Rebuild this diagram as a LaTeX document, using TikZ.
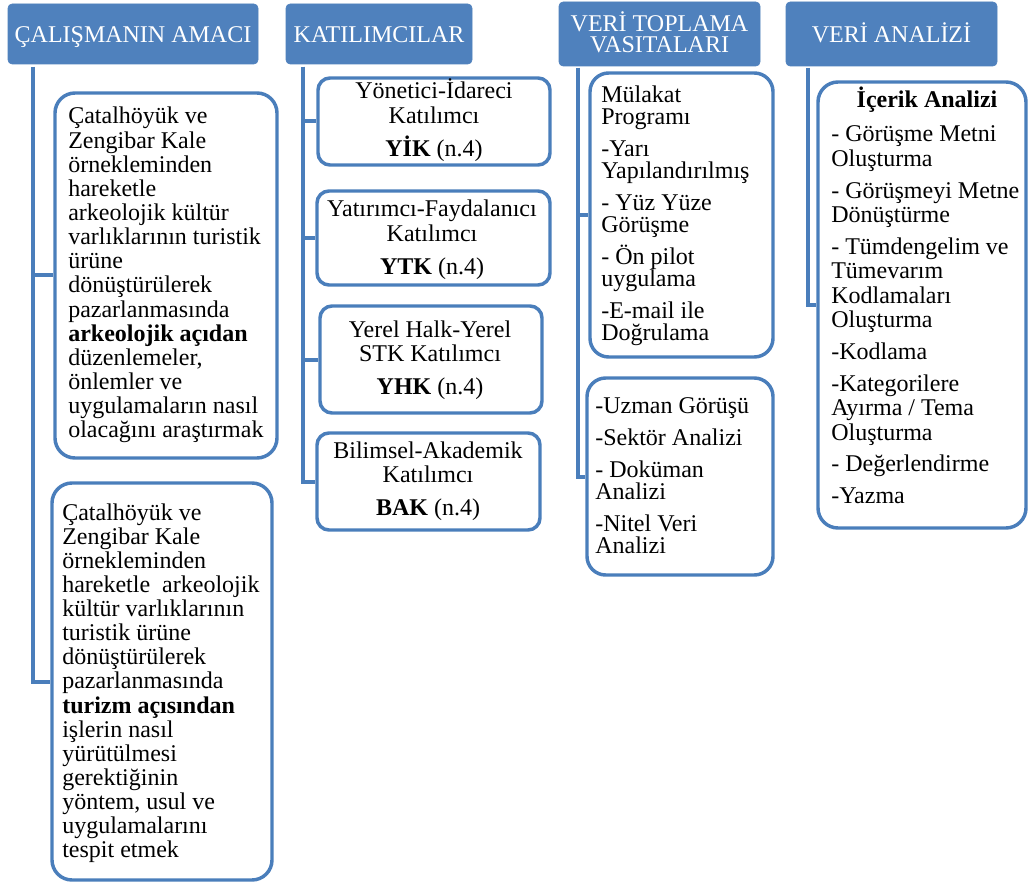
\documentclass[tikz,border=0pt]{standalone}
\usepackage{fontspec}
\setmainfont{Liberation Serif}
\usetikzlibrary{fit}
\definecolor{hdrblue}{HTML}{4F81BD}
\definecolor{lineblue}{HTML}{4A7EBB}
\newcommand{\TL}[1]{\vtop{\lineskiplimit=-\maxdimen\halign{##\hfil\cr#1\crcr}}}
\newcommand{\TC}[1]{\vtop{\lineskiplimit=-\maxdimen\halign{\hfil##\hfil\cr#1\crcr}}}
\newcommand{\gap}[1]{\noalign{\vskip #1}}
\tikzset{
  hdr/.style={draw=hdrblue, fill=hdrblue, rounded corners=3pt, inner sep=0pt},
  hdrtxt/.style={text=white, font=\fontsize{18}{18}\selectfont, inner sep=0pt, anchor=base},
  card/.style={draw=lineblue, line width=2.6pt, fill=white, rounded corners=#1, inner sep=0pt},
  card/.default=15pt,
  conn/.style={draw=lineblue, line width=3pt},
  txt/.style={inner sep=0pt, font=\fontsize{18}{18.1}\selectfont},
  txtB/.style={inner sep=0pt, font=\fontsize{18}{18.4}\selectfont},
  txtC/.style={inner sep=0pt, font=\fontsize{18}{16.5}\selectfont},
}
\begin{document}
\begin{tikzpicture}[x=0.75pt,y=-0.75pt]
\fill[white] (0,0) rectangle (1028,884);
\useasboundingbox (0,0) rectangle (1028,884);

% headers
\node[hdr, fit={(8,4) (258,64)}] (h1) {};
\node[hdr, fit={(286,4) (472,64)}] (h2) {};
\node[hdr, fit={(559,2) (760,66)}] (h3) {};
\node[hdr, fit={(786,2) (997,66)}] (h4) {};
\node[hdrtxt] (h1t) at (133,43) {ÇALIŞMANIN AMACI};
\node[hdrtxt] (h2t) at (379,43) {KATILIMCILAR};
\node[hdrtxt] (h3t) at (659.5,32) {VERİ TOPLAMA};
\node[hdrtxt] (h3u) at (659.5,53) {VASITALARI};
\node[hdrtxt] (h4t) at (891.5,43) {VERİ ANALİZİ};

% cards
\node[card=15pt, fit={(55,93) (277,458)}] (b11) {};
\node[card=15pt, fit={(52,483) (272,880)}] (b12) {};
\node[card=9pt, fit={(318,78) (550,165)}] (b21) {};
\node[card=9pt, fit={(317,191) (550,285)}] (b22) {};
\node[card=9pt, fit={(320,306) (542,413)}] (b23) {};
\node[card=9pt, fit={(317,433) (540,530)}] (b24) {};
\node[card=14pt, fit={(590,73) (773,357)}] (b31) {};
\node[card=14pt, fit={(587,378) (773,575)}] (b32) {};
\node[card=15pt, fit={(818,82) (1026,528)}] (b41) {};

% connectors
\coordinate (c1) at (33,67);
\coordinate (c2) at (303,67);
\coordinate (c3) at (578,68);
\coordinate (c4) at (808,68);
\draw[conn] (c1) |- (b11.west);
\draw[conn] (c1) |- (b12.west);
\draw[conn] (c2) |- (b21.west);
\draw[conn] (c2) |- (b22.west);
\draw[conn] (c2) |- (b23.west);
\draw[conn] (c2) |- (b24.west);
\draw[conn] (c3) |- (b31.west);
\draw[conn] (c3) |- (b32.west);
\draw[conn] (c4) |- (b41.west);

% column 1 texts
\node[txt, anchor=base west] (t11) at (68,124) {\TL{Çatalhöyük ve\cr
Zengibar Kale\cr
örnekleminden\cr
hareketle\cr
arkeolojik kültür\cr
varlıklarının turistik\cr
ürüne\cr
dönüştürülerek\cr
pazarlanmasında\cr
\textbf{arkeolojik açıdan}\cr
düzenlemeler,\cr
önlemler ve\cr
uygulamaların nasıl\cr
olacağını araştırmak}};

\node[txt, anchor=base west] (t12) at (62,520) {\TL{Çatalhöyük ve\cr
Zengibar Kale\cr
örnekleminden\cr
hareketle\ \ arkeolojik\cr
kültür varlıklarının\cr
turistik ürüne\cr
dönüştürülerek\cr
pazarlanmasında\cr
\textbf{turizm açısından}\cr
işlerin nasıl\cr
yürütülmesi\cr
gerektiğinin\cr
yöntem, usul ve\cr
uygulamalarını\cr
tespit etmek}};

% column 2 texts
\node[txtB, anchor=base] (t21) at (434,99) {\TC{Yönetici-İdareci\cr Katılımcı\cr\gap{6.5pt}\textbf{YİK} (n.4)}};
\node[txtB, anchor=base] (t22) at (432,217) {\TC{Yatırımcı-Faydalanıcı\cr Katılımcı\cr\gap{6.5pt}\textbf{YTK} (n.4)}};
\node[txtB, anchor=base] (t23) at (430,337) {\TC{Yerel Halk-Yerel\cr STK Katılımcı\cr\gap{6.5pt}\textbf{YHK} (n.4)}};
\node[txtB, anchor=base] (t24) at (428,458) {\TC{Bilimsel-Akademik\cr Katılımcı\cr\gap{6.5pt}\textbf{BAK} (n.4)}};

% column 3 texts
\node[txtC, anchor=base west] (t31) at (601,103) {\TL{Mülakat\cr Programı\cr\gap{7.5pt}
-Yarı\cr Yapılandırılmış\cr\gap{7.5pt}
- Yüz Yüze\cr Görüşme\cr\gap{7.5pt}
- Ön pilot\cr uygulama\cr\gap{7.5pt}
-E-mail ile\cr Doğrulama}};
\node[txtC, anchor=base west] (t32) at (595,413) {\TL{-Uzman Görüşü\cr\gap{7.5pt}
-Sektör Analizi\cr\gap{7.5pt}
- Doküman\cr Analizi\cr\gap{7.5pt}
-Nitel Veri\cr Analizi}};

% column 4 texts
\node[txtB, anchor=base] (t40) at (927,108) {\textbf{İçerik Analizi}};
\node[txtB, anchor=base west] (t41) at (831,142) {\TL{- Görüşme Metni\cr Oluşturma\cr\gap{5.3pt}
- Görüşmeyi Metne\cr Dönüştürme\cr\gap{5.3pt}
- Tümdengelim ve\cr Tümevarım\cr Kodlamaları\cr Oluşturma\cr\gap{5.3pt}
-Kodlama\cr\gap{5.3pt}
-Kategorilere\cr Ayırma / Tema\cr Oluşturma\cr\gap{5.3pt}
- Değerlendirme\cr\gap{5.3pt}
-Yazma}};
\end{tikzpicture}
\end{document}
